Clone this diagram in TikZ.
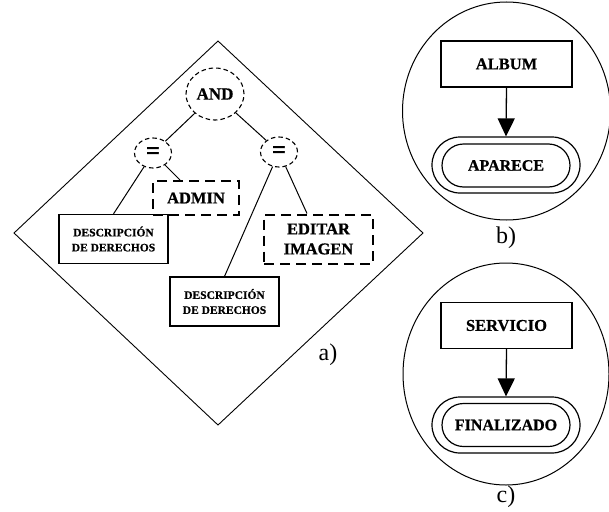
\documentclass[tikz,border=0pt]{standalone}
\usepackage{fontspec}
\setmainfont{Liberation Serif}
\newfontfamily\heavy[FakeBold=0.8]{Liberation Serif}
\usetikzlibrary{arrows.meta,shapes.geometric}
\begin{document}
\begin{tikzpicture}[x=1pt,y=-1pt,
  frame/.style={line width=0.9pt},
  link/.style={line width=1pt},
  dcirc/.style={draw,ellipse,line width=1.1pt,dash pattern=on 4.5pt off 3pt,inner sep=0pt,
                font=\heavy\bfseries\fontsize{17}{18}\selectfont},
  dbox/.style={draw,line width=2pt,dash pattern=on 10pt off 6pt,inner sep=0pt,align=center,
               font=\heavy\bfseries\fontsize{16.5}{20}\selectfont},
  descbox/.style={draw,line width=1.2pt,minimum width=109pt,minimum height=49pt,inner sep=0pt,
                  align=center,font=\heavy\bfseries\fontsize{11.5}{15}\selectfont},
  entity/.style={draw,line width=1.2pt,minimum width=131pt,minimum height=46pt,inner sep=0pt,
                 font=\heavy\bfseries\fontsize{16.5}{18}\selectfont},
  pillout/.style={draw,line width=1.2pt,minimum width=148pt,minimum height=56pt,rounded corners=28pt,inner sep=0pt},
  pillin/.style={draw,line width=1.2pt,minimum width=128pt,minimum height=43pt,rounded corners=21.5pt,inner sep=0pt,
                 font=\heavy\bfseries\fontsize{16}{18}\selectfont},
  ring/.style={draw,ellipse,line width=1pt,inner sep=0pt},
  caption/.style={font=\fontsize{24}{26}\selectfont,inner sep=0pt},
  flow/.style={line width=1.3pt,-{Triangle[width=17pt,length=18pt]}}
]
\useasboundingbox (0,0) rectangle (609,511);

% ---- a) rule tree inside a rhombus ----
\draw[frame] (218,41) -- (423,233) -- (218,425) -- (14,233) -- cycle;

\node[dcirc,minimum width=58pt,minimum height=52pt] (and) at (215,94) {AND};
\node[dcirc,minimum width=37pt,minimum height=30pt,font=\heavy\bfseries\fontsize{25}{25}\selectfont] (eqL) at (153,153) {=};
\node[dcirc,minimum width=37pt,minimum height=30pt,font=\heavy\bfseries\fontsize{25}{25}\selectfont] (eqR) at (279,152) {=};

\node[dbox,minimum width=86pt,minimum height=34pt] (admin) at (196,198) {ADMIN};
\node[dbox,minimum width=109pt,minimum height=49pt] (editar) at (318.5,239) {EDITAR\\IMAGEN};

\node[descbox] (desc1) at (113.5,239) {DESCRIPCIÓN\\DE DERECHOS};
\node[descbox] (desc2) at (224.5,301.5) {DESCRIPCIÓN\\DE DERECHOS};

\draw[link] (and) -- (eqL);
\draw[link] (and) -- (eqR);
\draw[link] (eqL) -- (desc1.north);
\draw[link] (eqL) -- ([xshift=-16pt]admin.north);
\draw[link] (eqR) -- (desc2.north);
\draw[link] (eqR) -- ([xshift=-11.5pt]editar.north);

\node[caption] (capa) at (328,355) {a)};

% ---- b) ALBUM / APARECE ----
\node[ring,minimum width=208pt,minimum height=218pt] (ringb) at (506.5,111) {};
\node[entity] (album) at (506.5,64) {ALBUM};
\node[pillout] (apOut) at (506,165) {};
\node[pillin] (aparece) at (506,165.5) {APARECE};
\draw[flow] (album.south) -- (apOut.north);
\node[caption] (capb) at (506,238) {b)};

% ---- c) SERVICIO / FINALIZADO ----
\node[ring,minimum width=206pt,minimum height=222pt] (ringc) at (506,374) {};
\node[entity] (servicio) at (506.5,325.5) {SERVICIO};
\node[pillout] (fiOut) at (506,425) {};
\node[pillin] (finalizado) at (506,425) {FINALIZADO};
\draw[flow] (servicio.south) -- (fiOut.north);
\node[caption] (capc) at (506,497) {c)};
\end{tikzpicture}
\end{document}
